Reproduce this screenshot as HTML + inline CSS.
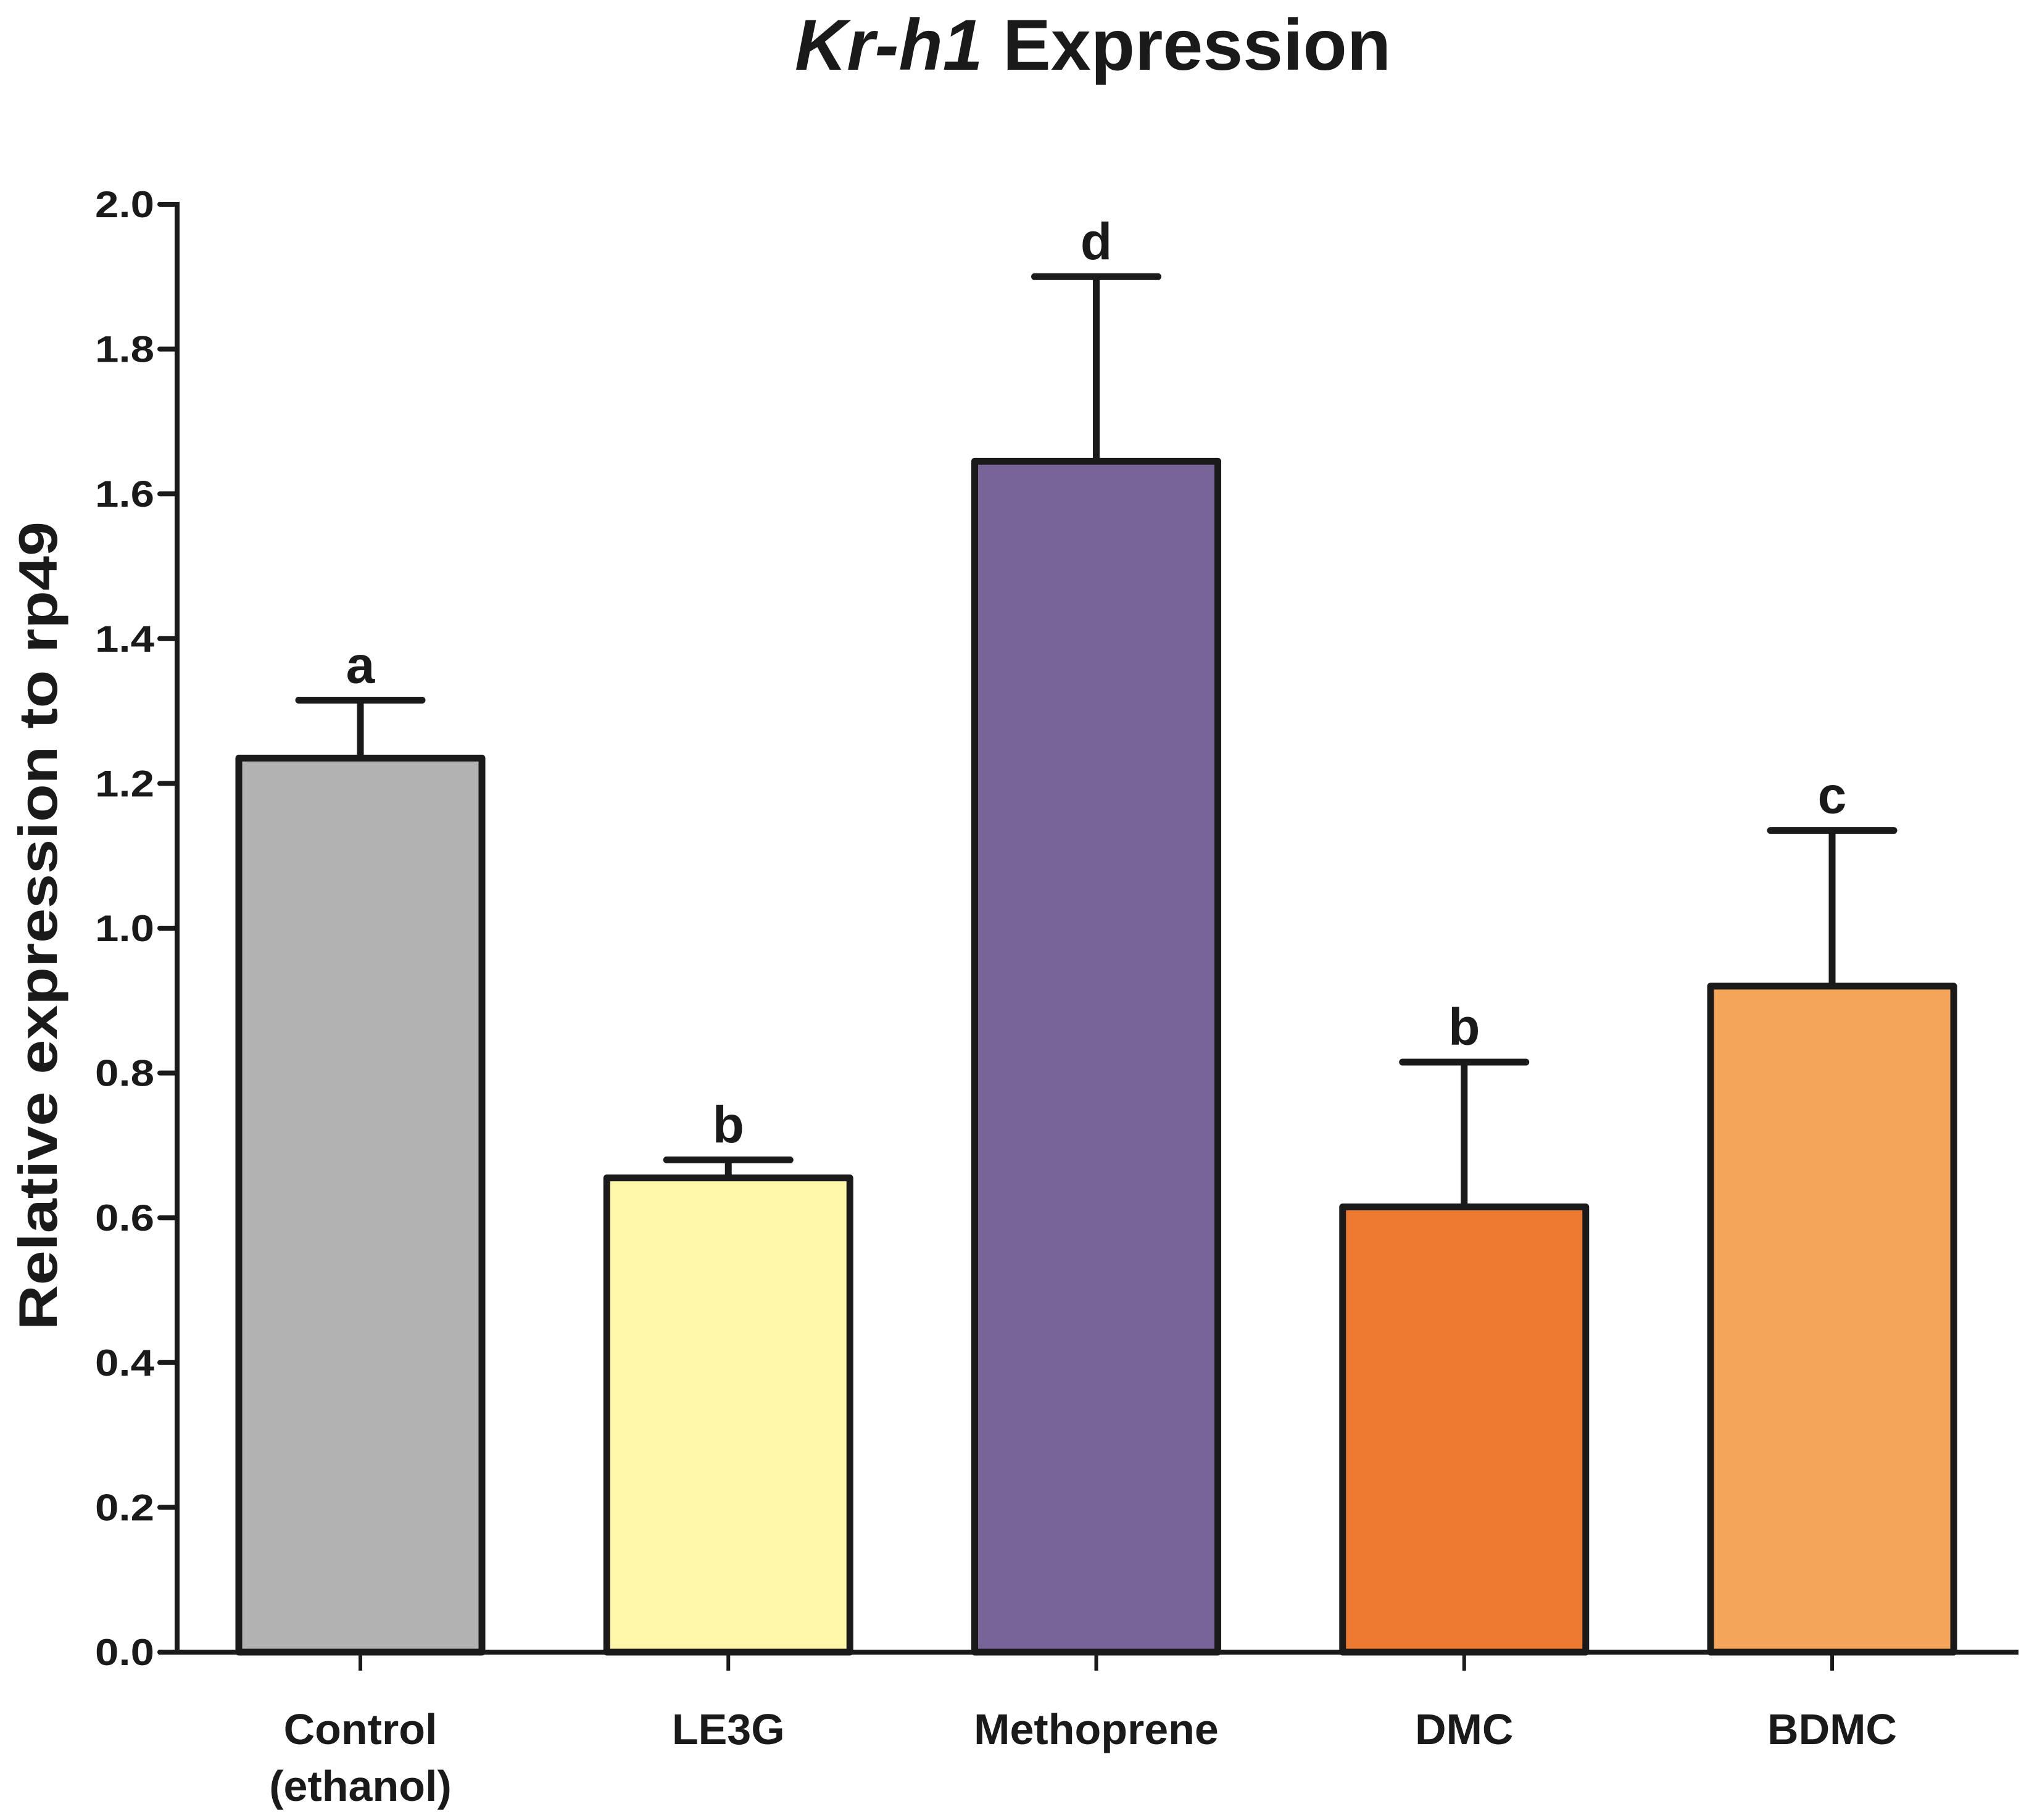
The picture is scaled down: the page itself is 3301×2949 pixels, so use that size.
<!DOCTYPE html>
<html><head><meta charset="utf-8"><style>html,body{margin:0;padding:0;background:#fff}svg{display:block}</style></head>
<body>
<svg id="chart" width="3301" height="2949" viewBox="0 0 3301 2949" xmlns="http://www.w3.org/2000/svg" font-family="'Liberation Sans', Arial, sans-serif" font-weight="bold" fill="#1a1a1a">
<text x="1288" y="113" font-size="117" textLength="966" lengthAdjust="spacingAndGlyphs"><tspan font-style="italic">Kr-h1</tspan> Expression</text>
<text transform="translate(92,1500) rotate(-90)" text-anchor="middle" font-size="88" textLength="1310" lengthAdjust="spacingAndGlyphs">Relative expression to rp49</text>
<g id="plot"></g>
</svg>
<script>
const categories = ["Control|(ethanol)", "LE3G", "Methoprene", "DMC", "BDMC"];
const means = [1.235, 0.655, 1.645, 0.615, 0.92];
const errTops = [1.315, 0.68, 1.90, 0.815, 1.135];
const sigLetters = ["a", "b", "d", "b", "c"];
const colors = ["#b2b2b2", "#fef6a9", "#786499", "#ed7a30", "#f5a55a"];
const yTicks = [0.0, 0.2, 0.4, 0.6, 0.8, 1.0, 1.2, 1.4, 1.6, 1.8, 2.0];

const NS = "http://www.w3.org/2000/svg";
const g = document.getElementById("plot");
const y0 = 2677, yTop = 331, axisX = 287, axisRight = 3271;
const xStart = 584, xStep = 596.25, barW = 394, capW = 200;
function yScale(v) { return y0 - (v / 2.0) * (y0 - yTop); }
function xScale(i) { return xStart + i * xStep; }
function mk(tag, attrs) { const e = document.createElementNS(NS, tag); for (const k in attrs) e.setAttribute(k, attrs[k]); g.appendChild(e); return e; }

categories.forEach((c, i) => {
  const cx = xScale(i);
  const eb = mk("line", {x1: cx, x2: cx, y1: yScale(errTops[i]), y2: yScale(means[i]), stroke: "#1a1a1a", "stroke-width": 11});
  
  
  const cap = mk("line", {x1: cx - capW / 2, x2: cx + capW / 2, y1: yScale(errTops[i]), y2: yScale(errTops[i]), stroke: "#1a1a1a", "stroke-width": 11, "stroke-linecap": "round"});
  
  
  const r = mk("rect", {x: cx - barW / 2, y: yScale(means[i]), width: barW, height: y0 - yScale(means[i]), fill: colors[i], stroke: "#1a1a1a", "stroke-width": 11, "stroke-linejoin": "round"});
  
  
  const t = mk("text", {x: cx, y: yScale(errTops[i]) - 28, "text-anchor": "middle", "font-size": 84});
  t.textContent = sigLetters[i];
  
  
  const tk = mk("line", {x1: cx, x2: cx, y1: y0, y2: y0 + 30, stroke: "#1a1a1a", "stroke-width": 6});
  
  
  c.split("|").forEach((ln, j) => {
    const lt = mk("text", {x: cx, y: 2826 + j * 92, "text-anchor": "middle", "font-size": 70});
    lt.textContent = ln;
    
    
  });
});

yTicks.forEach(v => {
  const yy = yScale(v);
  const tk = mk("line", {x1: axisX - 28, x2: axisX, y1: yy, y2: yy, stroke: "#1a1a1a", "stroke-width": 8, "stroke-linecap": "round"});
  
  
  const t = mk("text", {x: 250, y: yy + 21, "text-anchor": "end", "font-size": 60, textLength: 96, lengthAdjust: "spacingAndGlyphs"});
  t.textContent = v.toFixed(1);
  
  
});

const ya = mk("line", {x1: axisX, x2: axisX, y1: yTop - 4, y2: y0 + 4, stroke: "#1a1a1a", "stroke-width": 8});


const xa = mk("line", {x1: axisX - 30, x2: axisRight, y1: y0, y2: y0, stroke: "#1a1a1a", "stroke-width": 8});


</script>
</body></html>
